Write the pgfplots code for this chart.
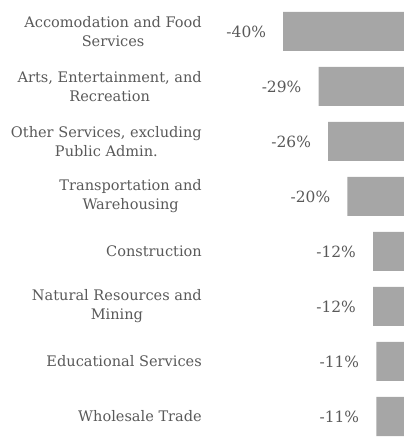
\documentclass[border=0pt]{standalone}
\usepackage{pgfplots}
\pgfplotsset{compat=1.18}
\usepackage{fontspec}
\setmainfont{DejaVu Serif}
\definecolor{bargray}{HTML}{A6A6A6}
\definecolor{txtgray}{HTML}{595959}
\begin{document}
\begin{tikzpicture}[x=1bp,y=1bp]
\begin{axis}[
  name=ax,
  scale only axis,
  width=198bp, height=438bp,
  xbar, bar width=39bp,
  xmin=-64.05, xmax=-2.37,
  ymin=-0.5727, ymax=7.391,
  y dir=reverse,
  axis line style={draw=none},
  xtick=\empty,
  ytick={0,...,7},
  yticklabels={{Accomodation and Food\\Services},{Arts, Entertainment, and\\Recreation},{Other Services, excluding\\Public Admin.},{Transportation and\\Warehousing},{Construction},{Natural Resources and\\Mining},{Educational Services},{Wholesale Trade}},
  yticklabel style={align=center, font=\fontsize{14.6}{19}\selectfont, text=txtgray, inner sep=0pt},
  major tick length=0pt,
  ytick style={draw=none},
  yticklabel shift=4bp,
  nodes near coords={\pgfmathprintnumber[assume math mode=true]{\pgfplotspointmeta}\%},
  nodes near coords style={anchor=east, inner sep=0pt, xshift=-17bp, font=\fontsize{15.5}{18}\selectfont, text=txtgray},
  point meta=x,
]
\addplot[fill=bargray, draw=none] coordinates {
(-40,0) (-29,1) (-26,2) (-20,3) (-12,4) (-12,5) (-11,6) (-11,7)
};
\end{axis}
\pgfresetboundingbox
\path[use as bounding box] ([xshift=-404bp]ax.north east) rectangle (ax.south east);
\end{tikzpicture}
\end{document}
